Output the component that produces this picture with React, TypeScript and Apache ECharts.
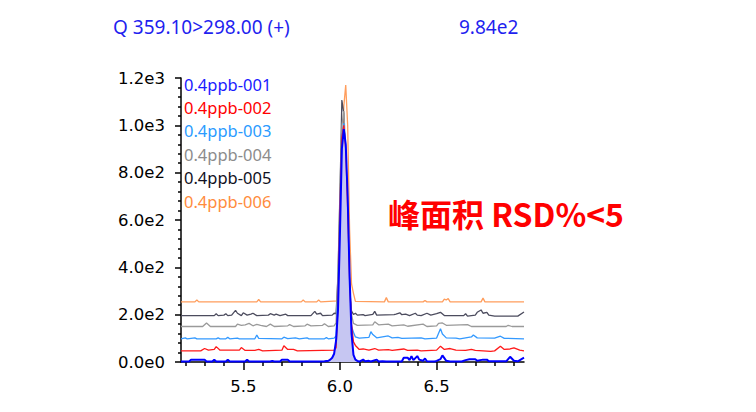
import React, { useEffect, useRef } from "react";
import * as echarts from "echarts";

type Pt = [number, number];

const seriesNames = ["0.4ppb-001", "0.4ppb-002", "0.4ppb-003", "0.4ppb-004", "0.4ppb-005", "0.4ppb-006"];
const lineColors = ["#0000ff", "#ff1a1a", "#3399ff", "#9a9a9a", "#4c4c5e", "#ff9d5c"];
const labelColors = ["#1a1aff", "#ff0000", "#2b9bff", "#8c8c8c", "#111122", "#ff8c3c"];

const s001: Pt[] = [[5.178,2],[5.22,2],[5.23,10],[5.30,10],[5.31,2],[5.34,2],[5.35,10],[5.36,2],[5.41,2],[5.42,10],[5.43,2],[5.51,2],[5.52,10],[5.53,2],[5.64,2],[5.65,5],[5.66,2],[5.69,2],[5.70,10],[5.73,10],[5.74,2],[5.90,2],[5.92,3],[5.94,5],[5.95,10],[5.96,18],[5.97,35],[5.98,90],[5.99,220],[6.00,540],[6.01,900],[6.02,984],[6.03,920],[6.04,700],[6.05,360],[6.06,120],[6.07,30],[6.08,10],[6.09,5],[6.10,2],[6.12,10],[6.13,3],[6.15,5],[6.16,2],[6.19,10],[6.20,2],[6.22,3],[6.24,2],[6.32,2],[6.33,18],[6.35,18],[6.36,8],[6.37,25],[6.38,8],[6.40,25],[6.41,10],[6.43,5],[6.44,15],[6.45,3],[6.49,2],[6.50,5],[6.52,12],[6.53,28],[6.55,5],[6.57,2],[6.63,2],[6.65,8],[6.67,12],[6.70,12],[6.71,5],[6.74,10],[6.76,10],[6.77,3],[6.86,3],[6.88,22],[6.90,5],[6.92,3],[6.952,18]];
const s002: Pt[] = [[5.178,47],[5.28,47],[5.30,57],[5.32,50],[5.35,53],[5.36,65],[5.38,50],[5.48,50],[5.49,61],[5.51,49],[5.56,49],[5.58,53],[5.60,47],[5.70,50],[5.71,69],[5.73,53],[5.76,53],[5.78,47],[5.97,50],[5.98,60],[5.99,250],[6.00,650],[6.01,950],[6.02,1000],[6.03,900],[6.04,650],[6.05,350],[6.06,160],[6.07,85],[6.08,70],[6.10,53],[6.12,55],[6.15,50],[6.18,57],[6.20,50],[6.25,52],[6.27,49],[6.33,55],[6.35,49],[6.40,50],[6.42,47],[6.50,50],[6.52,67],[6.54,53],[6.57,57],[6.60,50],[6.65,49],[6.68,53],[6.70,49],[6.78,45],[6.80,47],[6.83,67],[6.85,53],[6.88,55],[6.90,60],[6.93,50],[6.952,47]];
const s003: Pt[] = [[5.178,98],[5.20,102],[5.21,98],[5.25,102],[5.26,98],[5.36,98],[5.37,102],[5.38,98],[5.41,98],[5.42,104],[5.43,98],[5.47,101],[5.48,98],[5.56,98],[5.57,114],[5.58,100],[5.70,98],[5.71,105],[5.73,99],[5.77,102],[5.79,98],[5.83,102],[5.84,98],[5.92,98],[5.93,103],[5.94,98],[5.97,101],[5.98,110],[5.99,300],[6.00,650],[6.01,950],[6.02,1010],[6.03,880],[6.04,600],[6.05,330],[6.06,150],[6.07,126],[6.08,106],[6.10,101],[6.15,104],[6.16,128],[6.17,116],[6.19,102],[6.25,110],[6.27,102],[6.30,104],[6.32,100],[6.42,102],[6.44,98],[6.50,101],[6.52,141],[6.53,118],[6.55,102],[6.60,101],[6.62,98],[6.68,106],[6.69,114],[6.71,102],[6.80,101],[6.83,109],[6.85,100],[6.952,98]];
const s004: Pt[] = [[5.178,150],[5.29,150],[5.31,165],[5.33,150],[5.46,150],[5.47,160],[5.49,155],[5.51,157],[5.53,163],[5.55,153],[5.57,159],[5.59,155],[5.62,150],[5.64,160],[5.66,150],[5.73,153],[5.74,158],[5.76,150],[5.82,153],[5.83,160],[5.85,153],[5.91,155],[5.92,162],[5.94,150],[5.97,153],[5.98,165],[5.99,380],[6.00,720],[6.01,1000],[6.02,1060],[6.03,900],[6.04,600],[6.05,330],[6.06,200],[6.07,163],[6.09,155],[6.17,157],[6.18,170],[6.20,157],[6.25,160],[6.27,153],[6.33,157],[6.35,151],[6.43,160],[6.45,150],[6.50,153],[6.51,163],[6.53,165],[6.55,155],[6.66,158],[6.68,150],[6.86,150],[6.87,155],[6.89,150],[6.952,150]];
const s005: Pt[] = [[5.178,196],[5.35,196],[5.36,204],[5.37,196],[5.40,198],[5.41,204],[5.42,196],[5.44,198],[5.46,218],[5.47,206],[5.49,196],[5.50,208],[5.52,198],[5.54,202],[5.55,206],[5.57,196],[5.63,198],[5.64,204],[5.66,198],[5.67,202],[5.69,196],[5.72,202],[5.73,196],[5.85,196],[5.87,214],[5.88,202],[5.90,206],[5.91,196],[5.96,198],[5.97,206],[5.98,204],[5.99,360],[6.00,700],[6.005,905],[6.01,1107],[6.02,1050],[6.03,800],[6.04,480],[6.05,290],[6.06,215],[6.07,201],[6.08,206],[6.09,198],[6.12,200],[6.13,196],[6.17,201],[6.18,214],[6.19,198],[6.28,200],[6.29,202],[6.31,208],[6.32,200],[6.34,202],[6.36,196],[6.39,206],[6.40,198],[6.42,196],[6.45,206],[6.47,198],[6.50,204],[6.52,210],[6.54,196],[6.64,196],[6.65,204],[6.66,194],[6.70,198],[6.71,210],[6.73,220],[6.74,206],[6.76,210],[6.77,198],[6.80,194],[6.92,194],[6.952,211]];
const s006: Pt[] = [[5.178,254],[5.25,254],[5.26,262],[5.27,254],[5.57,254],[5.58,264],[5.59,254],[5.80,254],[5.81,262],[5.82,254],[5.88,254],[5.89,262],[5.90,254],[5.99,258],[6.00,450],[6.01,800],[6.02,1080],[6.03,1170],[6.04,1000],[6.05,560],[6.06,330],[6.07,290],[6.08,256],[6.23,254],[6.24,272],[6.25,254],[6.43,254],[6.44,260],[6.45,254],[6.53,254],[6.54,266],[6.55,262],[6.56,268],[6.57,254],[6.73,254],[6.74,270],[6.75,254],[6.952,254]];

const allSeries: Pt[][] = [s001, s002, s003, s004, s005, s006];
const peakWindow = [5.94, 6.09];

const xMin = 5.178;
const xMax = 6.952;
const xMajorTicks = [5.5, 6.0, 6.5];
const xMinorTicks = [5.2, 5.3, 5.4, 5.6, 5.7, 5.8, 5.9, 6.1, 6.2, 6.3, 6.4, 6.6, 6.7, 6.8, 6.9];
const yMax = 1200;
const yInterval = 200;

const titleLeft = "Q 359.10>298.00 (+)";
const titleRight = "9.84e2";
const annotation = "峰面积 RSD%<5";

function sci(v: number): string {
  if (v === 0) return "0.0e0";
  const e = Math.floor(Math.log10(v) + 1e-9);
  const m = v / Math.pow(10, e);
  return m.toFixed(1) + "e" + e;
}

export default function App() {
  const ref = useRef<HTMLDivElement>(null);
  useEffect(() => {
    if (!ref.current) return;
    const chart = echarts.init(ref.current, undefined, { renderer: "svg" });
    const drawOrder = [5, 4, 3, 2, 1, 0];
    const series: any[] = [];
    drawOrder.forEach((i, k) => {
      if (i === 0) {
        series.push({
          type: "line",
          name: seriesNames[0] + "-area",
          data: s001.filter((p) => p[0] >= peakWindow[0] && p[0] <= peakWindow[1]),
          symbol: "none",
          lineStyle: { width: 0 },
          areaStyle: { color: "#c6c6f2", opacity: 1 },
          z: 2 + k,
          silent: true,
        });
      }
      series.push({
        type: "line",
        name: seriesNames[i],
        data: allSeries[i],
        symbol: "none",
        lineStyle: { width: i === 0 ? 2 : 1.3, color: lineColors[i] },
        itemStyle: { color: lineColors[i] },
        z: 3 + k,
      });
    });

    const graphics: any[] = [
      {
        type: "text",
        x: 113,
        y: 27,
        style: { text: titleLeft, fill: "#1f1fef", font: "19px 'Noto Sans'", verticalAlign: "middle" },
      },
      {
        type: "text",
        x: 459,
        y: 27,
        style: { text: titleRight, fill: "#1f1fef", font: "19px 'Noto Sans'", verticalAlign: "middle" },
      },
      {
        type: "text",
        x: 388,
        y: 213,
        style: {
          text: annotation,
          fill: "#ff0000",
          font: "bold 32px 'Noto Sans CJK SC'",
          verticalAlign: "middle",
        },
        z: 100,
      },
    ];
    seriesNames.forEach((n, i) => {
      graphics.push({
        type: "text",
        x: 184,
        y: 84 + i * 23.4,
        style: { text: n, fill: labelColors[i], font: "16.5px 'Noto Sans'", verticalAlign: "middle" },
        z: 100,
      });
    });

    chart.setOption({
      animation: false,
      grid: { left: 181, right: 232, top: 78, bottom: 50, containLabel: false },
      xAxis: [
        {
          type: "value",
          min: xMin,
          max: xMax,
          axisLine: { show: true, lineStyle: { color: "#000", width: 1.5 } },
          axisTick: { show: true, customValues: xMajorTicks, length: 8, lineStyle: { color: "#000", width: 1.5 } },
          axisLabel: {
            show: true,
            customValues: xMajorTicks,
            formatter: (v: number) => v.toFixed(1),
            color: "#000",
            fontFamily: "DejaVu Sans",
            fontSize: 16.5,
            margin: 16,
          },
          splitLine: { show: false },
        },
        {
          type: "value",
          min: xMin,
          max: xMax,
          position: "bottom",
          axisLine: { show: false },
          axisTick: { show: true, customValues: xMinorTicks, length: 4, lineStyle: { color: "#000", width: 1.5 } },
          axisLabel: { show: false },
          splitLine: { show: false },
        },
      ],
      yAxis: {
        type: "value",
        min: 0,
        max: yMax,
        interval: yInterval,
        axisLine: { show: true, lineStyle: { color: "#000", width: 1.5 } },
        axisTick: { show: true, length: 6, lineStyle: { color: "#000", width: 1.5 } },
        minorTick: { show: true, splitNumber: 5, length: 3, lineStyle: { color: "#000", width: 1.5 } },
        axisLabel: {
          formatter: (v: number) => sci(v),
          color: "#000",
          fontFamily: "DejaVu Sans",
          fontSize: 16.5,
          margin: 16,
        },
        splitLine: { show: false },
      },
      series,
      graphic: graphics,
    });
    return () => chart.dispose();
  }, []);
  return <div ref={ref} style={{ position: "fixed", left: 0, top: 0, width: 756, height: 412, background: "#fff" }} />;
}
